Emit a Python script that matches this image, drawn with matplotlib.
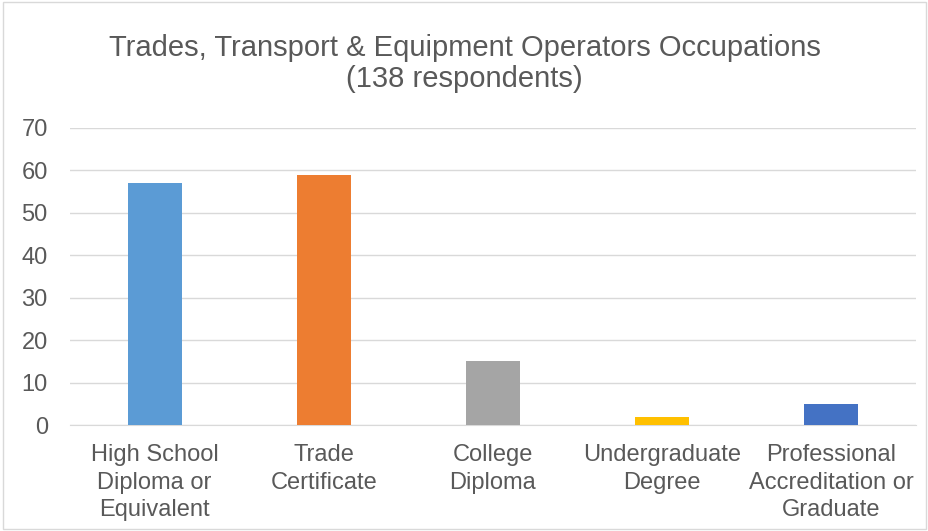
import matplotlib
matplotlib.use('Agg')
from matplotlib import pyplot as plt
import numpy as np

categories = ['High School\nDiploma or\nEquivalent', 'Trade\nCertificate', 'College\nDiploma',
              'Undergraduate\nDegree', 'Professional\nAccreditation or\nGraduate']
counts = [57, 59, 15, 2, 5]
colors = ['#5B9BD5', '#ED7D31', '#A5A5A5', '#FFC000', '#4472C4']

plt.rcParams['font.family'] = ['Liberation Sans', 'DejaVu Sans']
text_color = '#595959'

fig = plt.figure(figsize=(9.29, 5.31), dpi=100)
ax = fig.add_axes([70 / 929, 0.1996, 846 / 929, 0.5594])

x = np.arange(len(categories))
ax.bar(x, counts, width=0.32, color=colors, zorder=3)

ax.set_xlim(-0.5, len(categories) - 0.5)
ax.set_ylim(0, 70)
ax.set_yticks(range(0, 71, 10))
ax.set_xticks(x)
ax.set_xticklabels(categories, fontsize=17, color=text_color, linespacing=1.3)
ax.tick_params(axis='y', labelsize=17, colors=text_color, length=0, pad=16)
ax.tick_params(axis='x', length=0, pad=14)
ax.grid(axis='y', color='#D9D9D9', linewidth=1, zorder=0)

for side in ['top', 'right', 'left']:
    ax.spines[side].set_visible(False)
ax.spines['bottom'].set_color('#D9D9D9')

fig.text(0.5, 0.881, 'Trades, Transport & Equipment Operators Occupations\n(138 respondents)',
         ha='center', va='center', fontsize=21, color=text_color, linespacing=1.12)

fig.patches.append(plt.Rectangle((0.003, 0.003), 0.994, 0.994, transform=fig.transFigure,
                                 fill=False, edgecolor='#D9D9D9', linewidth=1))

fig.savefig('out.png', dpi=100)
